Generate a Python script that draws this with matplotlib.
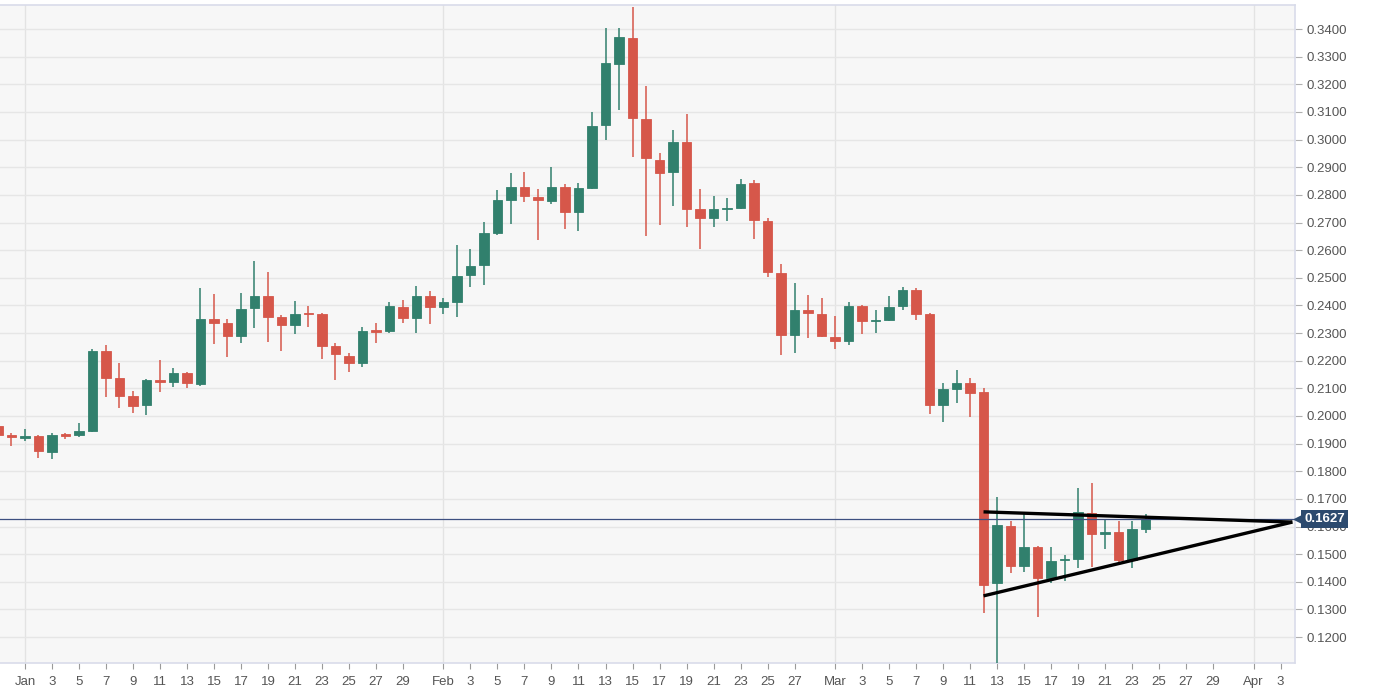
# xrp_daily_candles.py
# Daily candlestick chart, Dec 30 - Mar 24, with a symmetric triangle drawn on the last days
import matplotlib
matplotlib.use("Agg")
import matplotlib.pyplot as plt
import matplotlib.dates as mdates
import pandas as pd

plt.rcParams['font.family'] = ['Liberation Sans', 'DejaVu Sans']

# daily OHLC
dates = pd.date_range("2019-12-30", "2020-03-24", freq="D")
opens = [0.1965, 0.1930, 0.1922, 0.1926, 0.1870, 0.1933, 0.1931, 0.1946, 0.2235, 0.2137,
         0.2072, 0.2040, 0.2130, 0.2123, 0.2155, 0.2116, 0.2350, 0.2336, 0.2289, 0.2391,
         0.2434, 0.2358, 0.2329, 0.2372, 0.2369, 0.2253, 0.2217, 0.2192, 0.2310, 0.2307,
         0.2394, 0.2354, 0.2434, 0.2394, 0.2412, 0.2510, 0.2546, 0.2662, 0.2781, 0.2828,
         0.2792, 0.2778, 0.2828, 0.2738, 0.2825, 0.3053, 0.3273, 0.3367, 0.3074, 0.2926,
         0.2883, 0.2991, 0.2749, 0.2716, 0.2748, 0.2752, 0.2843, 0.2705, 0.2517, 0.2293,
         0.2383, 0.2369, 0.2286, 0.2271, 0.2398, 0.2344, 0.2347, 0.2398, 0.2456, 0.2369,
         0.2040, 0.2098, 0.2119, 0.2087, 0.1396, 0.1602, 0.1457, 0.1526, 0.1414, 0.1478,
         0.1482, 0.1649, 0.1574, 0.1580, 0.1479, 0.1591]
highs = [0.1972, 0.1938, 0.1953, 0.1930, 0.1938, 0.1940, 0.1975, 0.2242, 0.2257, 0.2192,
         0.2090, 0.2134, 0.2202, 0.2174, 0.2158, 0.2463, 0.2441, 0.2351, 0.2445, 0.2561,
         0.2521, 0.2365, 0.2416, 0.2398, 0.2372, 0.2265, 0.2228, 0.2322, 0.2336, 0.2412,
         0.2420, 0.2470, 0.2452, 0.2427, 0.2618, 0.2604, 0.2702, 0.2818, 0.2879, 0.2883,
         0.2821, 0.2901, 0.2839, 0.2843, 0.3100, 0.3404, 0.3404, 0.3480, 0.3194, 0.2951,
         0.3035, 0.3092, 0.2821, 0.2796, 0.2789, 0.2857, 0.2854, 0.2716, 0.2550, 0.2481,
         0.2438, 0.2427, 0.2362, 0.2412, 0.2402, 0.2383, 0.2434, 0.2467, 0.2463, 0.2372,
         0.2119, 0.2166, 0.2137, 0.2101, 0.1707, 0.1620, 0.1653, 0.1530, 0.1526, 0.1497,
         0.1739, 0.1757, 0.1627, 0.1620, 0.1620, 0.1645]
lows = [0.1920, 0.1890, 0.1909, 0.1848, 0.1844, 0.1915, 0.1925, 0.1942, 0.2069, 0.2029,
        0.2011, 0.2003, 0.2087, 0.2105, 0.2101, 0.2110, 0.2260, 0.2213, 0.2264, 0.2318,
        0.2268, 0.2235, 0.2297, 0.2322, 0.2206, 0.2130, 0.2159, 0.2177, 0.2264, 0.2300,
        0.2336, 0.2300, 0.2333, 0.2369, 0.2358, 0.2467, 0.2474, 0.2655, 0.2694, 0.2774,
        0.2637, 0.2767, 0.2676, 0.2669, 0.2820, 0.2998, 0.3107, 0.2937, 0.2651, 0.2691,
        0.2760, 0.2684, 0.2604, 0.2684, 0.2705, 0.2748, 0.2640, 0.2503, 0.2221, 0.2228,
        0.2282, 0.2286, 0.2242, 0.2257, 0.2297, 0.2300, 0.2344, 0.2383, 0.2347, 0.2007,
        0.1978, 0.2047, 0.1996, 0.1287, 0.1100, 0.1432, 0.1435, 0.1273, 0.1396, 0.1403,
        0.1450, 0.1454, 0.1519, 0.1472, 0.1450, 0.1576]
closes = [0.1930, 0.1925, 0.1926, 0.1875, 0.1931, 0.1929, 0.1946, 0.2235, 0.2137, 0.2072,
          0.2036, 0.2130, 0.2123, 0.2155, 0.2119, 0.2351, 0.2338, 0.2289, 0.2387, 0.2434,
          0.2358, 0.2329, 0.2369, 0.2368, 0.2253, 0.2224, 0.2192, 0.2307, 0.2305, 0.2398,
          0.2354, 0.2434, 0.2394, 0.2412, 0.2506, 0.2543, 0.2662, 0.2781, 0.2828, 0.2796,
          0.2782, 0.2828, 0.2738, 0.2825, 0.3049, 0.3277, 0.3371, 0.3078, 0.2933, 0.2879,
          0.2991, 0.2749, 0.2716, 0.2749, 0.2754, 0.2839, 0.2709, 0.2521, 0.2293, 0.2383,
          0.2373, 0.2289, 0.2272, 0.2398, 0.2344, 0.2349, 0.2394, 0.2456, 0.2369, 0.2040,
          0.2098, 0.2119, 0.2083, 0.1388, 0.1605, 0.1457, 0.1526, 0.1414, 0.1475, 0.1484,
          0.1653, 0.1573, 0.1580, 0.1479, 0.1591, 0.1627]

last_price = 0.1627

# triangle trend lines (start at Mar 12, meet at the right edge)
tri_dates = [pd.Timestamp("2020-03-12"), pd.Timestamp("2020-04-03 21:00")]
tri_upper = [0.1653, 0.1616]
tri_lower = [0.1349, 0.1616]

up_col = "#31806d"
down_col = "#d6574a"

fig = plt.figure(figsize=(13.75, 6.88), dpi=100)
ax = fig.add_axes([0.0, 0.0363, 0.9418, 0.9564])
ax.set_facecolor("#f7f7f7")

x = mdates.date2num(dates)
colors = [up_col if c >= o else down_col for o, c in zip(opens, closes)]
bottoms = [min(o, c) for o, c in zip(opens, closes)]
heights = [max(abs(c - o), 0.0003) for o, c in zip(opens, closes)]

ax.vlines(x, lows, highs, colors=colors, linewidth=1.1, zorder=3)
ax.bar(x, heights, bottom=bottoms, width=0.72, color=colors, edgecolor=colors,
       linewidth=0.6, zorder=4)

# last price line
ax.axhline(last_price, color="#3d4f80", linewidth=0.9, zorder=5)

# triangle
tx = mdates.date2num(tri_dates)
ax.plot(tx, tri_upper, color="black", linewidth=2.4, zorder=6, solid_capstyle="butt", clip_on=False)
ax.plot(tx, tri_lower, color="black", linewidth=2.4, zorder=6, solid_capstyle="butt", clip_on=False)

# axes limits
x0 = mdates.date2num(pd.Timestamp("2020-01-01")) - 1.85
x1 = mdates.date2num(pd.Timestamp("2020-01-01")) + 94.07
ax.set_xlim(x0, x1)
ax.set_ylim(0.1106, 0.3487)

# x ticks: month name on the 1st, odd days otherwise (last odd day of the month skipped)
month_starts = [pd.Timestamp("2020-01-01"), pd.Timestamp("2020-02-01"),
                pd.Timestamp("2020-03-01"), pd.Timestamp("2020-04-01")]
month_names = ["Jan", "Feb", "Mar", "Apr"]
month_last_day = [29, 27, 29, 3]
tick_pos = []
tick_lab = []
for ms, name, last in zip(month_starts, month_names, month_last_day):
    tick_pos.append(mdates.date2num(ms))
    tick_lab.append(name)
    for d in range(3, last + 1, 2):
        tick_pos.append(mdates.date2num(ms + pd.Timedelta(days=d - 1)))
        tick_lab.append(str(d))
ax.set_xticks(tick_pos)
ax.set_xticklabels(tick_lab)

y_ticks = [0.12 + 0.01 * i for i in range(23)]
ax.yaxis.tick_right()
ax.set_yticks(y_ticks)
ax.set_yticklabels(["%.4f" % v for v in y_ticks])

ax.tick_params(axis="x", length=4, width=0.8, color="#9a9a9a", labelsize=9.5,
               labelcolor="#555555", pad=5)
ax.tick_params(axis="y", length=5, width=0.8, color="#b0b0b0", labelsize=9.5,
               labelcolor="#555555", pad=3)

# grid: horizontal at every tick, vertical only at month starts
ax.grid(axis="y", color="#e6e6e6", linewidth=1.0, zorder=0)
ax.set_axisbelow(True)
for ms in month_starts:
    ax.axvline(mdates.date2num(ms), color="#e3e3e3", linewidth=1.0, zorder=0)

for side in ["left"]:
    ax.spines[side].set_visible(False)
for side in ["top", "bottom", "right"]:
    ax.spines[side].set_color("#d9dcea")
    ax.spines[side].set_linewidth(1.2)

# last price label on the right axis
ax.plot([1.004], [last_price], marker="<", markersize=8, color="#2c4a6e",
        transform=ax.get_yaxis_transform(), clip_on=False, zorder=7)
ax.text(1.007, last_price, "0.1627", transform=ax.get_yaxis_transform(),
        ha="left", va="center", color="white", fontsize=9.5, fontweight="bold",
        bbox=dict(boxstyle="square,pad=0.25", fc="#2c4a6e", ec="none"), zorder=8)

fig.savefig("out.png", dpi=100, facecolor="white")
